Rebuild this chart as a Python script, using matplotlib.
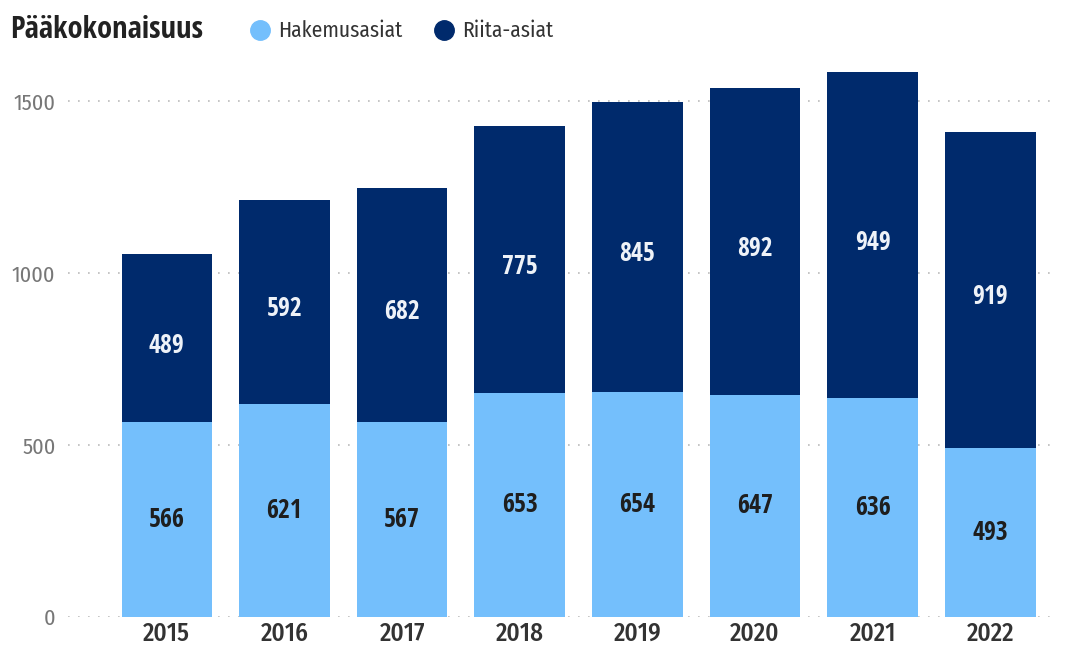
import matplotlib
matplotlib.use("Agg")
import matplotlib.pyplot as plt
from matplotlib.lines import Line2D

# data
years = ["2015", "2016", "2017", "2018", "2019", "2020", "2021", "2022"]
hakemus = [566, 621, 567, 653, 654, 647, 636, 493]
riita = [489, 592, 682, 775, 845, 892, 949, 919]
yticks = [0, 500, 1000, 1500]

light = "#74BFFC"
dark = "#002A6C"

bold_fam = ["Open Sans Condensed", "Fira Sans Condensed", "DejaVu Sans"]
reg_fam = ["Fira Sans Condensed", "DejaVu Sans"]
plt.rcParams["font.family"] = reg_fam

fig = plt.figure(figsize=(10.66, 6.52), dpi=100)
ax = fig.add_axes([68 / 1066, 35 / 652, (1055 - 68) / 1066, 550 / 652])

x = range(len(years))
ax.bar(x, hakemus, width=0.77, color=light, zorder=3)
ax.bar(x, riita, width=0.77, bottom=hakemus, color=dark, zorder=3)

for i in x:
    ax.text(i, hakemus[i] / 2, str(hakemus[i]), ha="center", va="center",
            fontsize=18.5, fontweight="bold", family=bold_fam, color="#1e1e1e", zorder=4)
    ax.text(i, hakemus[i] + riita[i] / 2 - 20, str(riita[i]), ha="center", va="center",
            fontsize=18.5, fontweight="bold", family=bold_fam, color="#eef2f8", zorder=4)

ax.set_xlim(-0.84, 7.55)
ax.set_ylim(0, 1600)
ax.set_xticks(list(x))
ax.set_xticklabels(years, fontsize=18, fontweight="medium", color="#333333")
ax.set_yticks(yticks)
ax.set_yticklabels([str(v) for v in yticks], fontsize=16, color="#777777")
ax.tick_params(length=0, pad=3)
ax.tick_params(axis="y", pad=9)
ax.grid(axis="y", linestyle=(0, (1, 5)), color="#bbbbbb", linewidth=1.2, zorder=0)
for s in ax.spines.values():
    s.set_visible(False)

fig.text(10 / 1066, 1 - 30 / 652, "Pääkokonaisuus", fontsize=22, fontweight="bold",
         family=bold_fam, color="#222222", va="center", ha="left")
handles = [Line2D([], [], marker="o", linestyle="", markersize=14, color=light),
           Line2D([], [], marker="o", linestyle="", markersize=14, color=dark)]
fig.legend(handles, ["Hakemusasiat", "Riita-asiat"], ncol=2, frameon=False,
           loc="center left", bbox_to_anchor=(228 / 1066, 1 - 31 / 652),
           prop={"family": reg_fam, "size": 15.5}, handletextpad=0.25,
           columnspacing=1.3, handlelength=1.2, labelcolor="#333333")

fig.savefig("out.png", dpi=100)
